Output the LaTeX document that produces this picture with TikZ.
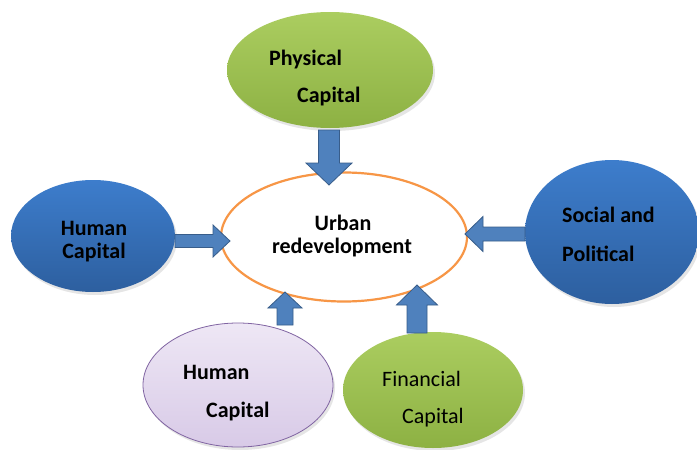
\documentclass[tikz,border=0pt]{standalone}
\usepackage{fontspec}
\setmainfont{Carlito}
\usetikzlibrary{shadows,shapes.geometric}
\definecolor{gtop}{HTML}{ABCD60}
\definecolor{gbot}{HTML}{8DB143}
\definecolor{btop}{HTML}{3D7DCC}
\definecolor{bbot}{HTML}{2D5F9F}
\definecolor{ltop}{HTML}{EEE7F5}
\definecolor{lbot}{HTML}{D8CAE7}
\definecolor{lborder}{HTML}{8064A2}
\definecolor{oborder}{HTML}{F79646}
\definecolor{afill}{HTML}{4F81BD}
\definecolor{aborder}{HTML}{385D8A}
\newcommand\barrow[6]{%
  \draw[blockarrow, shift={(#1)}, rotate=#2] (0,0) -- (#5,#6) -- (#4,#6) -- (#4,#3) -- (-#4,#3) -- (-#4,#6) -- (-#5,#6) -- cycle;}
\begin{document}
\begin{tikzpicture}[x=1pt,y=-1pt,
  ell/.style={ellipse, inner sep=0pt, drop shadow={opacity=0.2, shadow xshift=2pt, shadow yshift=-3pt}},
  greenell/.style={ell, top color=gtop, bottom color=gbot},
  blueell/.style={ell, top color=btop, bottom color=bbot},
  lavell/.style={ell, top color=ltop, bottom color=lbot, draw=lborder, line width=0.8pt},
  centerell/.style={ellipse, inner sep=0pt, draw=oborder, line width=2.2pt, fill=white},
  lbl/.style={inner sep=0pt, font=\fontsize{22}{26}\selectfont\bfseries},
  lblr/.style={inner sep=0pt, font=\fontsize{22}{26}\selectfont},
  blockarrow/.style={fill=afill, draw=aborder, line width=0.8pt, line join=miter}
]
\useasboundingbox (0,0) rectangle (697,450);
\fill[white] (0,0) rectangle (697,450);
% ellipses
\node[greenell, minimum width=206pt, minimum height=116pt] (phys) at (330,70) {};
\node[blueell, minimum width=164pt, minimum height=112pt] (humL) at (93,236) {};
\node[blueell, minimum width=174pt, minimum height=144pt] (soc) at (612,232) {};
\node[lavell, minimum width=190pt, minimum height=124pt] (humB) at (238,385) {};
\node[greenell, minimum width=180pt, minimum height=116pt] (fin) at (433,390) {};
% center
\node[centerell, minimum width=246pt, minimum height=129pt] (urb) at (344,237) {};
% arrows
\coordinate (tTop) at (329,185);
\coordinate (tLeft) at (230,241);
\coordinate (tRight) at (465,234);
\coordinate (tBL) at (285,292);
\coordinate (tBR) at (417,285);
\barrow{tTop}{180}{55}{10.5}{23}{22}
\barrow{tLeft}{-90}{55}{6.5}{16}{17}
\barrow{tRight}{90}{60}{7}{17.5}{18}
\barrow{tBL}{0}{33}{8}{17}{16}
\barrow{tBR}{0}{48}{10}{20.5}{20}
% labels
\node[lbl, anchor=base west] (l1a) at (269,65) {Physical};
\node[lbl, anchor=base west] (l1b) at (297,102) {Capital};
\node[lbl, anchor=base] (l2a) at (94,235) {Human};
\node[lbl, anchor=base] (l2b) at (94,258) {Capital};
\node[lbl, anchor=base] (l3a) at (343,230) {Urban};
\node[lbl, anchor=base] (l3b) at (342,253) {redevelopment};
\node[lbl, anchor=base west] (l4a) at (562,222) {Social and};
\node[lbl, anchor=base west] (l4b) at (562,261) {Political};
\node[lbl, anchor=base west] (l5a) at (183,379) {Human};
\node[lbl, anchor=base west] (l5b) at (206,417) {Capital};
\node[lblr, anchor=base west] (l6a) at (382,386) {Financial};
\node[lblr, anchor=base west] (l6b) at (402,423) {Capital};
\end{tikzpicture}
\end{document}
